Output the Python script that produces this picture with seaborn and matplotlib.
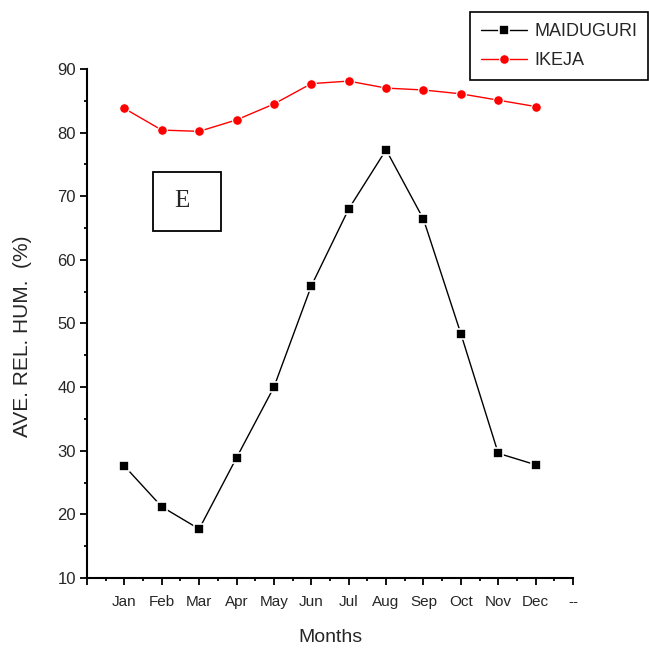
import matplotlib
matplotlib.use("Agg")
import matplotlib.pyplot as plt
from matplotlib.patches import Rectangle
from matplotlib.ticker import MultipleLocator, FixedLocator
import numpy as np
import pandas as pd
import seaborn as sns

# Monthly average relative humidity (%)
months = ["Jan", "Feb", "Mar", "Apr", "May", "Jun",
          "Jul", "Aug", "Sep", "Oct", "Nov", "Dec"]
maiduguri = [27.6, 21.2, 17.7, 28.9, 40.0, 55.9, 68.0, 77.3, 66.4, 48.4, 29.6, 27.8]
ikeja = [83.8, 80.4, 80.2, 82.0, 84.5, 87.7, 88.1, 87.0, 86.7, 86.1, 85.1, 84.1]
tick_labels = [""] + months + ["--"]

month_pos = np.arange(1, len(months) + 1)
df_m = pd.DataFrame({"pos": month_pos, "rh": maiduguri})
df_i = pd.DataFrame({"pos": month_pos, "rh": ikeja})

sns.set_style("ticks")
plt.rcParams["font.family"] = ["Liberation Sans", "DejaVu Sans"]

fig = plt.figure(figsize=(6.49, 6.51), dpi=100)
ax = fig.add_axes([87 / 649, 73 / 651, 486 / 649, 509 / 651])

sns.lineplot(data=df_m, x="pos", y="rh", ax=ax, color="black", lw=1.0,
             marker="s", markersize=6.5, markerfacecolor="black",
             markeredgecolor="white", markeredgewidth=1.2, label="MAIDUGURI")
sns.lineplot(data=df_i, x="pos", y="rh", ax=ax, color="red", lw=1.0,
             marker="o", markersize=7, markerfacecolor="red",
             markeredgecolor="white", markeredgewidth=0.8, label="IKEJA")

ax.set_xlim(0, 13)
ax.set_ylim(10, 90)
ax.xaxis.set_major_locator(FixedLocator(np.arange(0, 14)))
ax.xaxis.set_minor_locator(MultipleLocator(0.5))
ax.set_xticklabels(tick_labels, fontsize=11)
ax.yaxis.set_major_locator(MultipleLocator(10))
ax.yaxis.set_minor_locator(MultipleLocator(5))
ax.tick_params(axis="y", labelsize=12)
ax.tick_params(which="major", direction="out", length=5, width=1.3, color="black")
ax.tick_params(which="minor", direction="out", length=2.5, width=1.3, color="black")
ax.tick_params(axis="x", which="major", pad=7.5)
ax.tick_params(axis="y", which="major", pad=3)

for side in ("top", "right"):
    ax.spines[side].set_visible(False)
for side in ("left", "bottom"):
    ax.spines[side].set_linewidth(1.5)
    ax.spines[side].set_color("black")

ax.set_xlabel("Months", fontsize=14, labelpad=14)
ax.set_ylabel("AVE. REL. HUM.  (%)", fontsize=15)
ax.yaxis.set_label_coords(-0.113, 0.475)

# Panel tag
ax.add_patch(Rectangle((0.136, 0.682), 0.140, 0.116, transform=ax.transAxes,
                       fill=False, edgecolor="black", lw=1.3, clip_on=False))
ax.text(0.136 + 0.060, 0.682 + 0.058, "E", transform=ax.transAxes,
        ha="center", va="center", fontsize=18, family="Liberation Serif")

leg = ax.legend(loc="upper right", bbox_to_anchor=(648 / 649, 1 - 12 / 651),
                bbox_transform=fig.transFigure, borderaxespad=0,
                fontsize=13, handlelength=2.55, labelspacing=0.7,
                frameon=True, fancybox=False, borderpad=0.6, handletextpad=0.4)
leg.get_frame().set_edgecolor("black")
leg.get_frame().set_linewidth(1.2)
leg.get_frame().set_alpha(1)

fig.savefig("out.png", dpi=100)
